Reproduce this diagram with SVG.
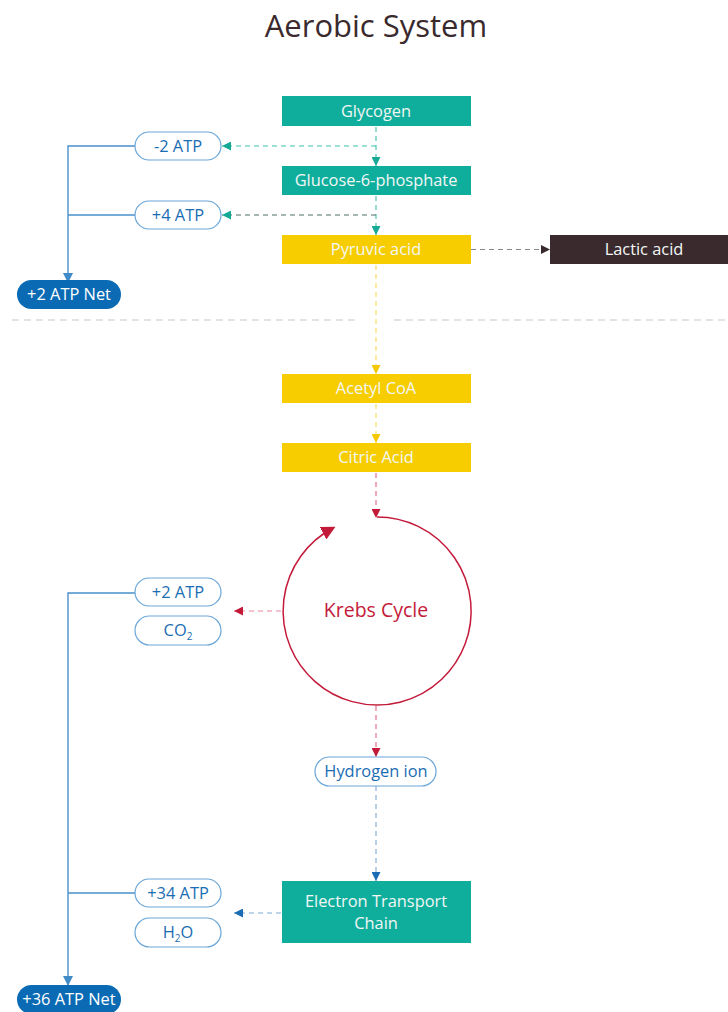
<svg xmlns="http://www.w3.org/2000/svg" width="728" height="1012" viewBox="0 0 728 1012">
<defs>
<style>
text{font-family:"Open Sans","Noto Sans",sans-serif;}
.box-t{fill:#0fae9c;}
.box-y{fill:#f8cd00;}
.box-d{fill:#3a2a2e;}
.bt{fill:#f2f7f5;font-size:16.4px;text-anchor:middle;}
.pill{fill:#fff;stroke:#6aa6d8;stroke-width:1.2;}
.pt{fill:#1a6db3;font-size:16.4px;text-anchor:middle;}
.net{fill:#0a6bb4;}
.nt{fill:#fff;font-size:16.4px;text-anchor:middle;}
.dash{fill:none;stroke-width:1.1;stroke-dasharray:5 4;}
.solid{fill:none;stroke:#4a90cc;stroke-width:1.4;}
</style>
<marker id="aT" viewBox="0 0 10 10" refX="10" refY="5" markerWidth="9" markerHeight="9" markerUnits="userSpaceOnUse" orient="auto"><path d="M0,0L10,5L0,10z" fill="#16a996"/></marker>
<marker id="aY" viewBox="0 0 10 10" refX="10" refY="5" markerWidth="9" markerHeight="9" markerUnits="userSpaceOnUse" orient="auto"><path d="M0,0L10,5L0,10z" fill="#f5c800"/></marker>
<marker id="aR" viewBox="0 0 10 10" refX="10" refY="5" markerWidth="9" markerHeight="9" markerUnits="userSpaceOnUse" orient="auto"><path d="M0,0L10,5L0,10z" fill="#c41a3a"/></marker>
<marker id="aRB" viewBox="0 0 10 10" refX="8" refY="5" markerWidth="14" markerHeight="14" markerUnits="userSpaceOnUse" orient="auto"><path d="M0,0L10,5L0,10z" fill="#c41a3a"/></marker>
<marker id="aB" viewBox="0 0 10 10" refX="10" refY="5" markerWidth="9" markerHeight="9" markerUnits="userSpaceOnUse" orient="auto"><path d="M0,0L10,5L0,10z" fill="#1a6db3"/></marker>
<marker id="aD" viewBox="0 0 10 10" refX="10" refY="5" markerWidth="9" markerHeight="9" markerUnits="userSpaceOnUse" orient="auto"><path d="M0,0L10,5L0,10z" fill="#3a2a2e"/></marker>
<marker id="aS" viewBox="0 0 10 10" refX="10" refY="5" markerWidth="10" markerHeight="10" markerUnits="userSpaceOnUse" orient="auto"><path d="M0,0L10,5L0,10z" fill="#3f8bc8"/></marker>
</defs>
<rect width="728" height="1012" fill="#fff"/>
<text x="376" y="37" font-size="31" text-anchor="middle" fill="#3a2a2e">Aerobic System</text>

<g id="connectors">
<line x1="12" y1="320" x2="360" y2="320" stroke="#c8c8c8" stroke-width="1.2" stroke-dasharray="7 5"/>
<line x1="394" y1="320" x2="728" y2="320" stroke="#c8c8c8" stroke-width="1.2" stroke-dasharray="7 5"/>
<line class="dash" stroke="#3fbfae" x1="376" y1="127" x2="376" y2="166" marker-end="url(#aT)"/>
<line class="dash" stroke="#3fbfae" x1="376" y1="146" x2="222" y2="146" marker-end="url(#aT)"/>
<line class="dash" stroke="#3fbfae" x1="376" y1="196" x2="376" y2="235" marker-end="url(#aT)"/>
<line class="dash" stroke="#4f6f6c" x1="376" y1="215" x2="222" y2="215" marker-end="url(#aT)"/>
<line class="dash" stroke="#888" x1="471" y1="249.5" x2="550" y2="249.5" marker-end="url(#aD)"/>
<line class="dash" stroke="#f9da55" x1="376" y1="265" x2="376" y2="374" marker-end="url(#aY)"/>
<line class="dash" stroke="#f9da55" x1="376" y1="404" x2="376" y2="443" marker-end="url(#aY)"/>
<line class="dash" stroke="#e2687e" x1="376" y1="473" x2="376" y2="518" marker-end="url(#aR)"/>
<line class="dash" stroke="#e8869a" x1="281" y1="611" x2="234" y2="611" marker-end="url(#aR)"/>
<line class="dash" stroke="#e2687e" x1="376" y1="706" x2="376" y2="757" marker-end="url(#aR)"/>
<line class="dash" stroke="#7fa9d3" x1="376" y1="786" x2="376" y2="881" marker-end="url(#aB)"/>
<line class="dash" stroke="#7fa9d3" x1="281" y1="913" x2="234" y2="913" marker-end="url(#aB)"/>
<polyline class="solid" points="135,146 68,146 68,283" marker-end="url(#aS)"/>
<line class="solid" x1="68" y1="215" x2="135" y2="215"/>
<polyline class="solid" points="135,593 68,593 68,986" marker-end="url(#aS)"/>
<line class="solid" x1="68" y1="893" x2="135" y2="893"/>
</g>

<g id="glycogen"><rect class="box-t" x="282" y="96" width="189" height="30"/><text class="bt" x="376" y="117">Glycogen</text></g>
<g id="g6p"><rect class="box-t" x="282" y="166" width="189" height="29"/><text class="bt" x="376" y="186">Glucose-6-phosphate</text></g>
<g id="pyruvic"><rect class="box-y" x="282" y="235" width="189" height="29"/><text class="bt" x="376" y="255">Pyruvic acid</text></g>
<g id="lactic"><rect class="box-d" x="550" y="235" width="178" height="29"/><text class="bt" x="644" y="255">Lactic acid</text></g>
<g id="acetyl"><rect class="box-y" x="282" y="374" width="189" height="29"/><text class="bt" x="376" y="394">Acetyl CoA</text></g>
<g id="citric"><rect class="box-y" x="282" y="443" width="189" height="29"/><text class="bt" x="376" y="463">Citric Acid</text></g>

<g id="minus2atp"><rect class="pill" x="135" y="132" width="86" height="28" rx="14"/><text class="pt" x="178" y="152">-2 ATP</text></g>
<g id="plus4atp"><rect class="pill" x="135" y="201" width="86" height="28" rx="14"/><text class="pt" x="178" y="221">+4 ATP</text></g>
<g id="net2"><rect class="net" x="17" y="280" width="104" height="29" rx="14.5"/><text class="nt" x="69" y="300">+2 ATP Net</text></g>

<g id="krebs">
<path d="M377,517 A94,94 0 1 1 333,528" fill="none" stroke="#c41a3a" stroke-width="1.5" marker-end="url(#aRB)"/>
<text x="376" y="617" font-size="19.5" text-anchor="middle" fill="#c41a3a">Krebs Cycle</text>
</g>

<g id="plus2atp"><rect class="pill" x="135" y="578" width="86" height="28" rx="14"/><text class="pt" x="178" y="598">+2 ATP</text></g>
<g id="co2"><rect class="pill" x="135" y="616" width="86" height="29" rx="14.5"/><text class="pt" x="178" y="636">CO<tspan font-size="10" dy="4">2</tspan></text></g>
<g id="hydrogen"><rect class="pill" x="315" y="757" width="121" height="29" rx="14.5"/><text class="pt" x="376" y="777">Hydrogen ion</text></g>
<g id="etc"><rect class="box-t" x="282" y="881" width="189" height="62"/><text class="bt" x="376" y="907">Electron Transport</text><text class="bt" x="376" y="929">Chain</text></g>
<g id="plus34atp"><rect class="pill" x="135" y="879" width="86" height="28" rx="14"/><text class="pt" x="178" y="899">+34 ATP</text></g>
<g id="h2o"><rect class="pill" x="135" y="918" width="86" height="29" rx="14.5"/><text class="pt" x="178" y="938">H<tspan font-size="10" dy="4">2</tspan><tspan dy="-4">O</tspan></text></g>
<g id="net36"><rect class="net" x="17" y="985" width="104" height="29" rx="14.5"/><text class="nt" x="69" y="1005">+36 ATP Net</text></g>
</svg>
